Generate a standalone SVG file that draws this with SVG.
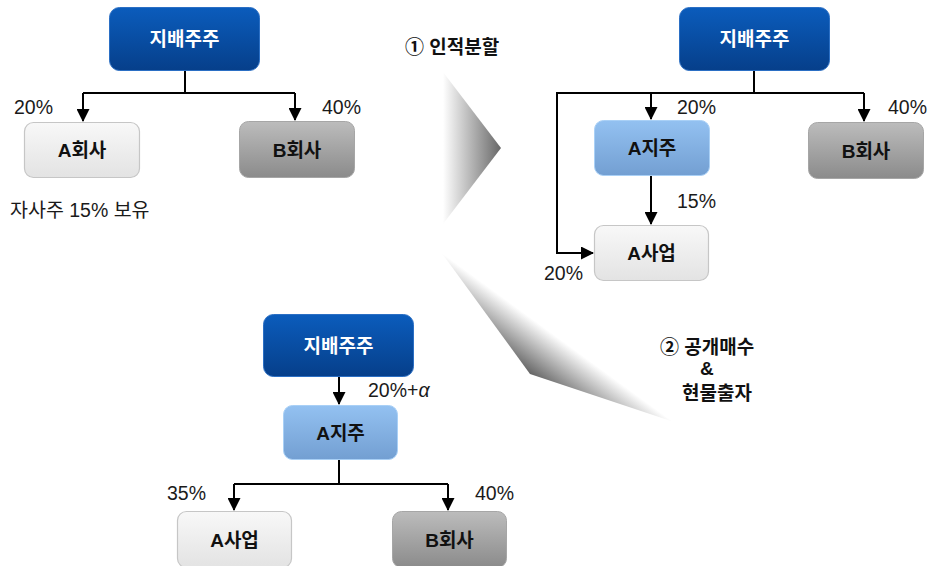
<svg xmlns="http://www.w3.org/2000/svg" width="937" height="566" viewBox="0 0 937 566">
<defs>
<linearGradient id="gBlue" x1="0" y1="0" x2="0" y2="1"><stop offset="0" stop-color="#0b5cbc"/><stop offset="1" stop-color="#063f8a"/></linearGradient>
<linearGradient id="gLight" x1="0" y1="0" x2="0" y2="1"><stop offset="0" stop-color="#93c1f1"/><stop offset="1" stop-color="#739fd2"/></linearGradient>
<linearGradient id="gGray" x1="0" y1="0" x2="0" y2="1"><stop offset="0" stop-color="#bcbcbc"/><stop offset="1" stop-color="#8b8b8b"/></linearGradient>
<linearGradient id="gWhite" x1="0" y1="0" x2="0" y2="1"><stop offset="0" stop-color="#f8f8f8"/><stop offset="1" stop-color="#e3e3e3"/></linearGradient>
<linearGradient id="gChev1" gradientUnits="userSpaceOnUse" x1="443" y1="0" x2="501" y2="0"><stop offset="0" stop-color="#ffffff"/><stop offset="1" stop-color="#676767"/></linearGradient>
<linearGradient id="gChev2" gradientUnits="userSpaceOnUse" x1="557" y1="337" x2="530" y2="374"><stop offset="0" stop-color="#ffffff"/><stop offset="1" stop-color="#656565"/></linearGradient>
<marker id="ah" markerUnits="userSpaceOnUse" markerWidth="13" markerHeight="13" refX="12" refY="6.5" orient="auto" viewBox="0 0 13 13"><path d="M0,0 L13,6.5 L0,13 z" fill="#000"/></marker>
</defs>
<style>
.nb{stroke:#2b6fc4;stroke-width:1}
.nl{stroke:#a9d0f6;stroke-width:1}
.ng{stroke:#a6a6a6;stroke-width:1}
.nw{stroke:#c6c6c6;stroke-width:1.2}
.lbl{font-family:"Liberation Sans","Noto Sans CJK KR",sans-serif;font-size:19px;font-weight:bold;text-anchor:middle}
.wt{fill:#ffffff}
.bk{fill:#111111}
.pct{font-family:"Liberation Sans","Noto Sans CJK KR",sans-serif;font-size:19.5px;fill:#1a1a1a}
.ttl{font-family:"Liberation Sans","Noto Sans CJK KR",sans-serif;font-size:19px;font-weight:bold;fill:#111}
.cn{fill:none;stroke:#000;stroke-width:2}
</style>
<g id="chevrons">
<polygon points="443,72 501,148 443,224" fill="url(#gChev1)"/>
<polygon points="441,252 530,374 680,424 640,300 520,250" fill="url(#gChev2)"/>
</g>
<g id="connectors">
<path class="cn" d="M185,70 V93 M83,93 H295"/>
<path class="cn" d="M83,93 V121" marker-end="url(#ah)"/>
<path class="cn" d="M295,93 V120" marker-end="url(#ah)"/>
<path class="cn" d="M754,70 V93 M557,93 H864"/>
<path class="cn" d="M651,93 V119" marker-end="url(#ah)"/>
<path class="cn" d="M864,93 V121" marker-end="url(#ah)"/>
<path class="cn" d="M557,92 V253 H593" marker-end="url(#ah)"/>
<path class="cn" d="M651,176 V224" marker-end="url(#ah)"/>
<path class="cn" d="M339,376 V404" marker-end="url(#ah)"/>
<path class="cn" d="M339,459 V484 M234,484 H448"/>
<path class="cn" d="M234,484 V510" marker-end="url(#ah)"/>
<path class="cn" d="M448,484 V510" marker-end="url(#ah)"/>
</g>
<g id="tl-owner"><rect class="nb" x="109.5" y="7.5" width="150" height="63" rx="10" fill="url(#gBlue)"/><text class="lbl wt" x="184.5" y="46">지배주주</text></g>
<g id="tl-a"><rect class="nw" x="24.5" y="122.5" width="115" height="55" rx="9" fill="url(#gWhite)"/><text class="lbl bk" x="82" y="157">A회사</text></g>
<g id="tl-b"><rect class="ng" x="239.5" y="121.5" width="115" height="56" rx="9" fill="url(#gGray)"/><text class="lbl bk" x="297" y="157">B회사</text></g>
<g id="tl-labels">
<text class="pct" x="14" y="114">20%</text>
<text class="pct" x="322" y="114">40%</text>
<text class="pct" x="10" y="217">자사주 15% 보유</text>
</g>
<g id="step1"><text class="ttl" x="405" y="54">① 인적분할</text></g>
<g id="tr-owner"><rect class="nb" x="679.5" y="7.5" width="150" height="63" rx="10" fill="url(#gBlue)"/><text class="lbl wt" x="754.5" y="46">지배주주</text></g>
<g id="tr-ahold"><rect class="nl" x="594.5" y="120.5" width="115" height="55" rx="9" fill="url(#gLight)"/><text class="lbl bk" x="652" y="155">A지주</text></g>
<g id="tr-b"><rect class="ng" x="808.5" y="122.5" width="115" height="56" rx="9" fill="url(#gGray)"/><text class="lbl bk" x="866" y="158">B회사</text></g>
<g id="tr-abiz"><rect class="nw" x="594.5" y="225.5" width="114" height="55" rx="9" fill="url(#gWhite)"/><text class="lbl bk" x="651.5" y="260">A사업</text></g>
<g id="tr-labels">
<text class="pct" x="677" y="114">20%</text>
<text class="pct" x="888" y="114">40%</text>
<text class="pct" x="677" y="208">15%</text>
<text class="pct" x="544" y="280">20%</text>
</g>
<g id="step2">
<text class="ttl" x="660" y="354">② 공개매수</text>
<text class="ttl" x="700" y="375">&amp;</text>
<text class="ttl" x="682" y="400">현물출자</text>
</g>
<g id="b-owner"><rect class="nb" x="263.5" y="314.5" width="150" height="62" rx="10" fill="url(#gBlue)"/><text class="lbl wt" x="338.5" y="353">지배주주</text></g>
<g id="b-ahold"><rect class="nl" x="283.5" y="405.5" width="114" height="54" rx="9" fill="url(#gLight)"/><text class="lbl bk" x="340.5" y="440">A지주</text></g>
<g id="b-abiz"><rect class="nw" x="177.5" y="511.5" width="114" height="56" rx="9" fill="url(#gWhite)"/><text class="lbl bk" x="234.5" y="547">A사업</text></g>
<g id="b-b"><rect class="ng" x="392.5" y="511.5" width="114" height="56" rx="9" fill="url(#gGray)"/><text class="lbl bk" x="449.5" y="547">B회사</text></g>
<g id="b-labels">
<text class="pct" x="368" y="397">20%+<tspan font-style="italic">α</tspan></text>
<text class="pct" x="167" y="500">35%</text>
<text class="pct" x="475" y="500">40%</text>
</g>
</svg>
